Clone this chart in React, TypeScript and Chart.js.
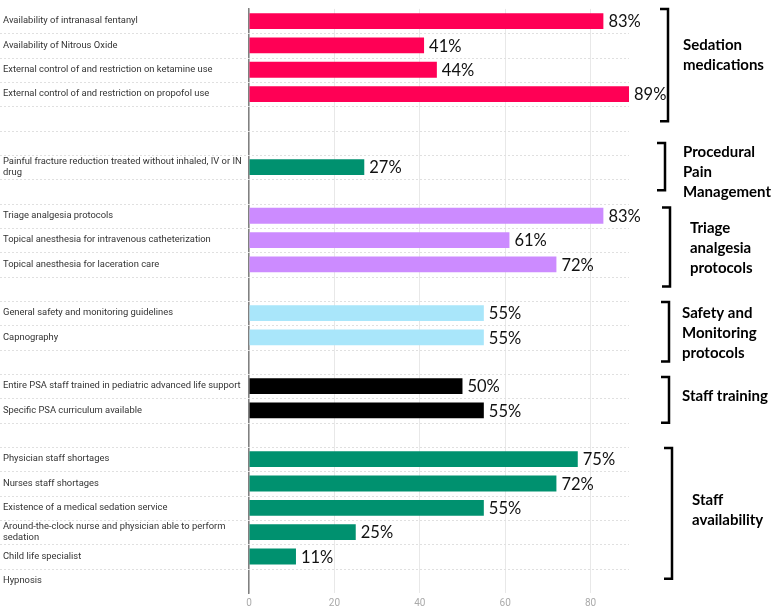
import React, { useEffect, useRef } from "react";
import { Chart, registerables } from "chart.js";

Chart.register(...registerables);

const CATEGORIES: (string | string[])[] = [
  "Availability of intranasal fentanyl",
  "Availability of Nitrous Oxide",
  "External control of and restriction on ketamine use",
  "External control of and restriction on propofol use",
  "",
  "",
  ["Painful fracture reduction treated without inhaled, IV or IN", "drug"],
  "",
  "Triage analgesia protocols",
  "Topical anesthesia for intravenous catheterization",
  "Topical anesthesia for laceration care",
  "",
  "General safety and monitoring guidelines",
  "Capnography",
  "",
  "Entire PSA staff trained in pediatric advanced life support",
  "Specific PSA curriculum available",
  "",
  "Physician staff shortages",
  "Nurses staff shortages",
  "Existence of a medical sedation service",
  ["Around-the-clock nurse and physician able to perform", "sedation"],
  "Child life specialist",
  "Hypnosis",
];

const VALUES: (number | null)[] = [
  83, 41, 44, 89, null, null, 27, null, 83, 61, 72, null, 55, 55, null, 50, 55, null, 77, 72, 55, 25, 11, 0,
];

const VALUE_LABELS: string[] = [
  "83%", "41%", "44%", "89%", "", "", "27%", "", "83%", "61%", "72%", "", "55%", "55%", "", "50%", "55%", "",
  "75%", "72%", "55%", "25%", "11%", "",
];

// group index of each category row
const GROUP_OF: number[] = [0, 0, 0, 0, 0, 1, 1, 1, 2, 2, 2, 2, 3, 3, 3, 4, 4, 4, 5, 5, 5, 5, 5, 5];

const GROUP_NAMES: string[][] = [
  ["Sedation", "medications"],
  ["Procedural", "Pain", "Management"],
  ["Triage", "analgesia", "protocols"],
  ["Safety and", "Monitoring", "protocols"],
  ["Staff training"],
  ["Staff", "availability"],
];
const GROUP_FIRST: number[] = [0, 6, 8, 12, 15, 18];
const GROUP_LAST: number[] = [3, 6, 10, 13, 16, 22];

const GROUP_COLORS = ["#FF0055", "#00916F", "#CC8BFF", "#A9E6FA", "#000000", "#00916F"];

// bracket layout (pixels): extension above/below, bracket x and text x offsets from chart right, text dy
const BRACKET_LAYOUT = [
  { extTop: 0, extBot: 15, bx: 39, tx: 54, dy: -10 },
  { extTop: 12, extBot: 11, bx: 36, tx: 54, dy: 6 },
  { extTop: -4, extBot: 10, bx: 41, tx: 61, dy: 1 },
  { extTop: -1, extBot: 12, bx: 40, tx: 53, dy: 1 },
  { extTop: -3, extBot: 0, bx: 40, tx: 53, dy: -4 },
  { extTop: -1, extBot: 10, bx: 43, tx: 63, dy: -3 },
];

const X_MAX = 89;

const rowGridPlugin = {
  id: "rowGrid",
  beforeDatasetsDraw(chart: any) {
    const { ctx, chartArea, scales } = chart;
    const y = scales.y;
    ctx.save();
    ctx.strokeStyle = "#e0e0e0";
    ctx.lineWidth = 1;
    ctx.setLineDash([2, 2]);
    for (let i = 0; i < CATEGORIES.length - 1; i++) {
      const py = Math.round((y.getPixelForValue(i) + y.getPixelForValue(i + 1)) / 2) + 0.5;
      ctx.beginPath();
      ctx.moveTo(0, py);
      ctx.lineTo(chartArea.right, py);
      ctx.stroke();
    }
    ctx.restore();
  },
};

const valueLabelPlugin = {
  id: "valueLabels",
  afterDatasetsDraw(chart: any) {
    const { ctx } = chart;
    const meta = chart.getDatasetMeta(0);
    ctx.save();
    ctx.font = "16.5px Lato";
    ctx.fillStyle = "#111111";
    ctx.textAlign = "left";
    ctx.textBaseline = "middle";
    meta.data.forEach((el: any, i: number) => {
      const t = VALUE_LABELS[i];
      if (!t) return;
      ctx.fillText(t, el.x + 5, el.y + 1);
    });
    ctx.restore();
  },
};

const bracketPlugin = {
  id: "brackets",
  afterDraw(chart: any) {
    const { ctx, chartArea, scales } = chart;
    const y = scales.y;
    const half = Math.abs(y.getPixelForValue(1) - y.getPixelForValue(0)) / 2;
    ctx.save();
    GROUP_NAMES.forEach((lines, g) => {
      const L = BRACKET_LAYOUT[g];
      const top = y.getPixelForValue(GROUP_FIRST[g]) - half - L.extTop;
      const bot = y.getPixelForValue(GROUP_LAST[g]) + half + L.extBot;
      const bx = chartArea.right + L.bx;
      ctx.strokeStyle = "#000";
      ctx.lineWidth = 2.5;
      ctx.setLineDash([]);
      ctx.beginPath();
      ctx.moveTo(bx - 8, top);
      ctx.lineTo(bx, top);
      ctx.lineTo(bx, bot);
      ctx.lineTo(bx - 8, bot);
      ctx.stroke();
      ctx.fillStyle = "#000";
      ctx.font = "bold 15px Lato";
      ctx.textAlign = "left";
      ctx.textBaseline = "middle";
      const lh = 20;
      const cy = (top + bot) / 2 + L.dy;
      const start = cy - ((lines.length - 1) * lh) / 2;
      lines.forEach((ln, k) => {
        ctx.fillText(ln, chartArea.right + L.tx, start + k * lh);
      });
    });
    ctx.restore();
  },
};

export default function App() {
  const canvasRef = useRef<HTMLCanvasElement | null>(null);

  useEffect(() => {
    if (!canvasRef.current) return;
    const chart = new Chart(canvasRef.current, {
      type: "bar",
      data: {
        labels: CATEGORIES as any,
        datasets: [
          {
            data: VALUES,
            backgroundColor: GROUP_OF.map((g) => GROUP_COLORS[g]),
            barPercentage: 0.65,
            categoryPercentage: 1.0,
            borderWidth: 0,
          },
        ],
      },
      options: {
        indexAxis: "y",
        animation: false,
        responsive: true,
        maintainAspectRatio: false,
        layout: { padding: { top: 3, left: 3, right: 148, bottom: 0 } },
        plugins: {
          legend: { display: false },
          tooltip: { enabled: false },
        },
        scales: {
          x: {
            min: 0,
            max: X_MAX,
            border: { display: false },
            grid: {
              drawTicks: false,
              color: (c: any) => (c.tick && c.tick.value % 20 === 0 ? "#e8e8e8" : "rgba(0,0,0,0)"),
            },
            ticks: {
              stepSize: 20,
              autoSkip: false,
              padding: 4,
              color: "#aaaaaa",
              font: { family: "Roboto", size: 10 },
              callback: (v: any) => (Number(v) % 20 === 0 ? String(v) : ""),
            },
          },
          y: {
            grid: { display: false, drawTicks: false },
            border: { display: true, color: "#808080", width: 1.5 },
            afterFit: (s: any) => {
              s.width = 246;
            },
            ticks: {
              autoSkip: false,
              crossAlign: "far",
              color: "#333333",
              font: { family: "Roboto", size: 9.4, lineHeight: 1.25 },
            },
          },
        },
      },
      plugins: [rowGridPlugin, valueLabelPlugin, bracketPlugin],
    } as any);
    return () => chart.destroy();
  }, []);

  return (
    <div style={{ position: "absolute", left: 0, top: 0, width: 777, height: 613, background: "#fff" }}>
      <canvas ref={canvasRef} />
    </div>
  );
}
